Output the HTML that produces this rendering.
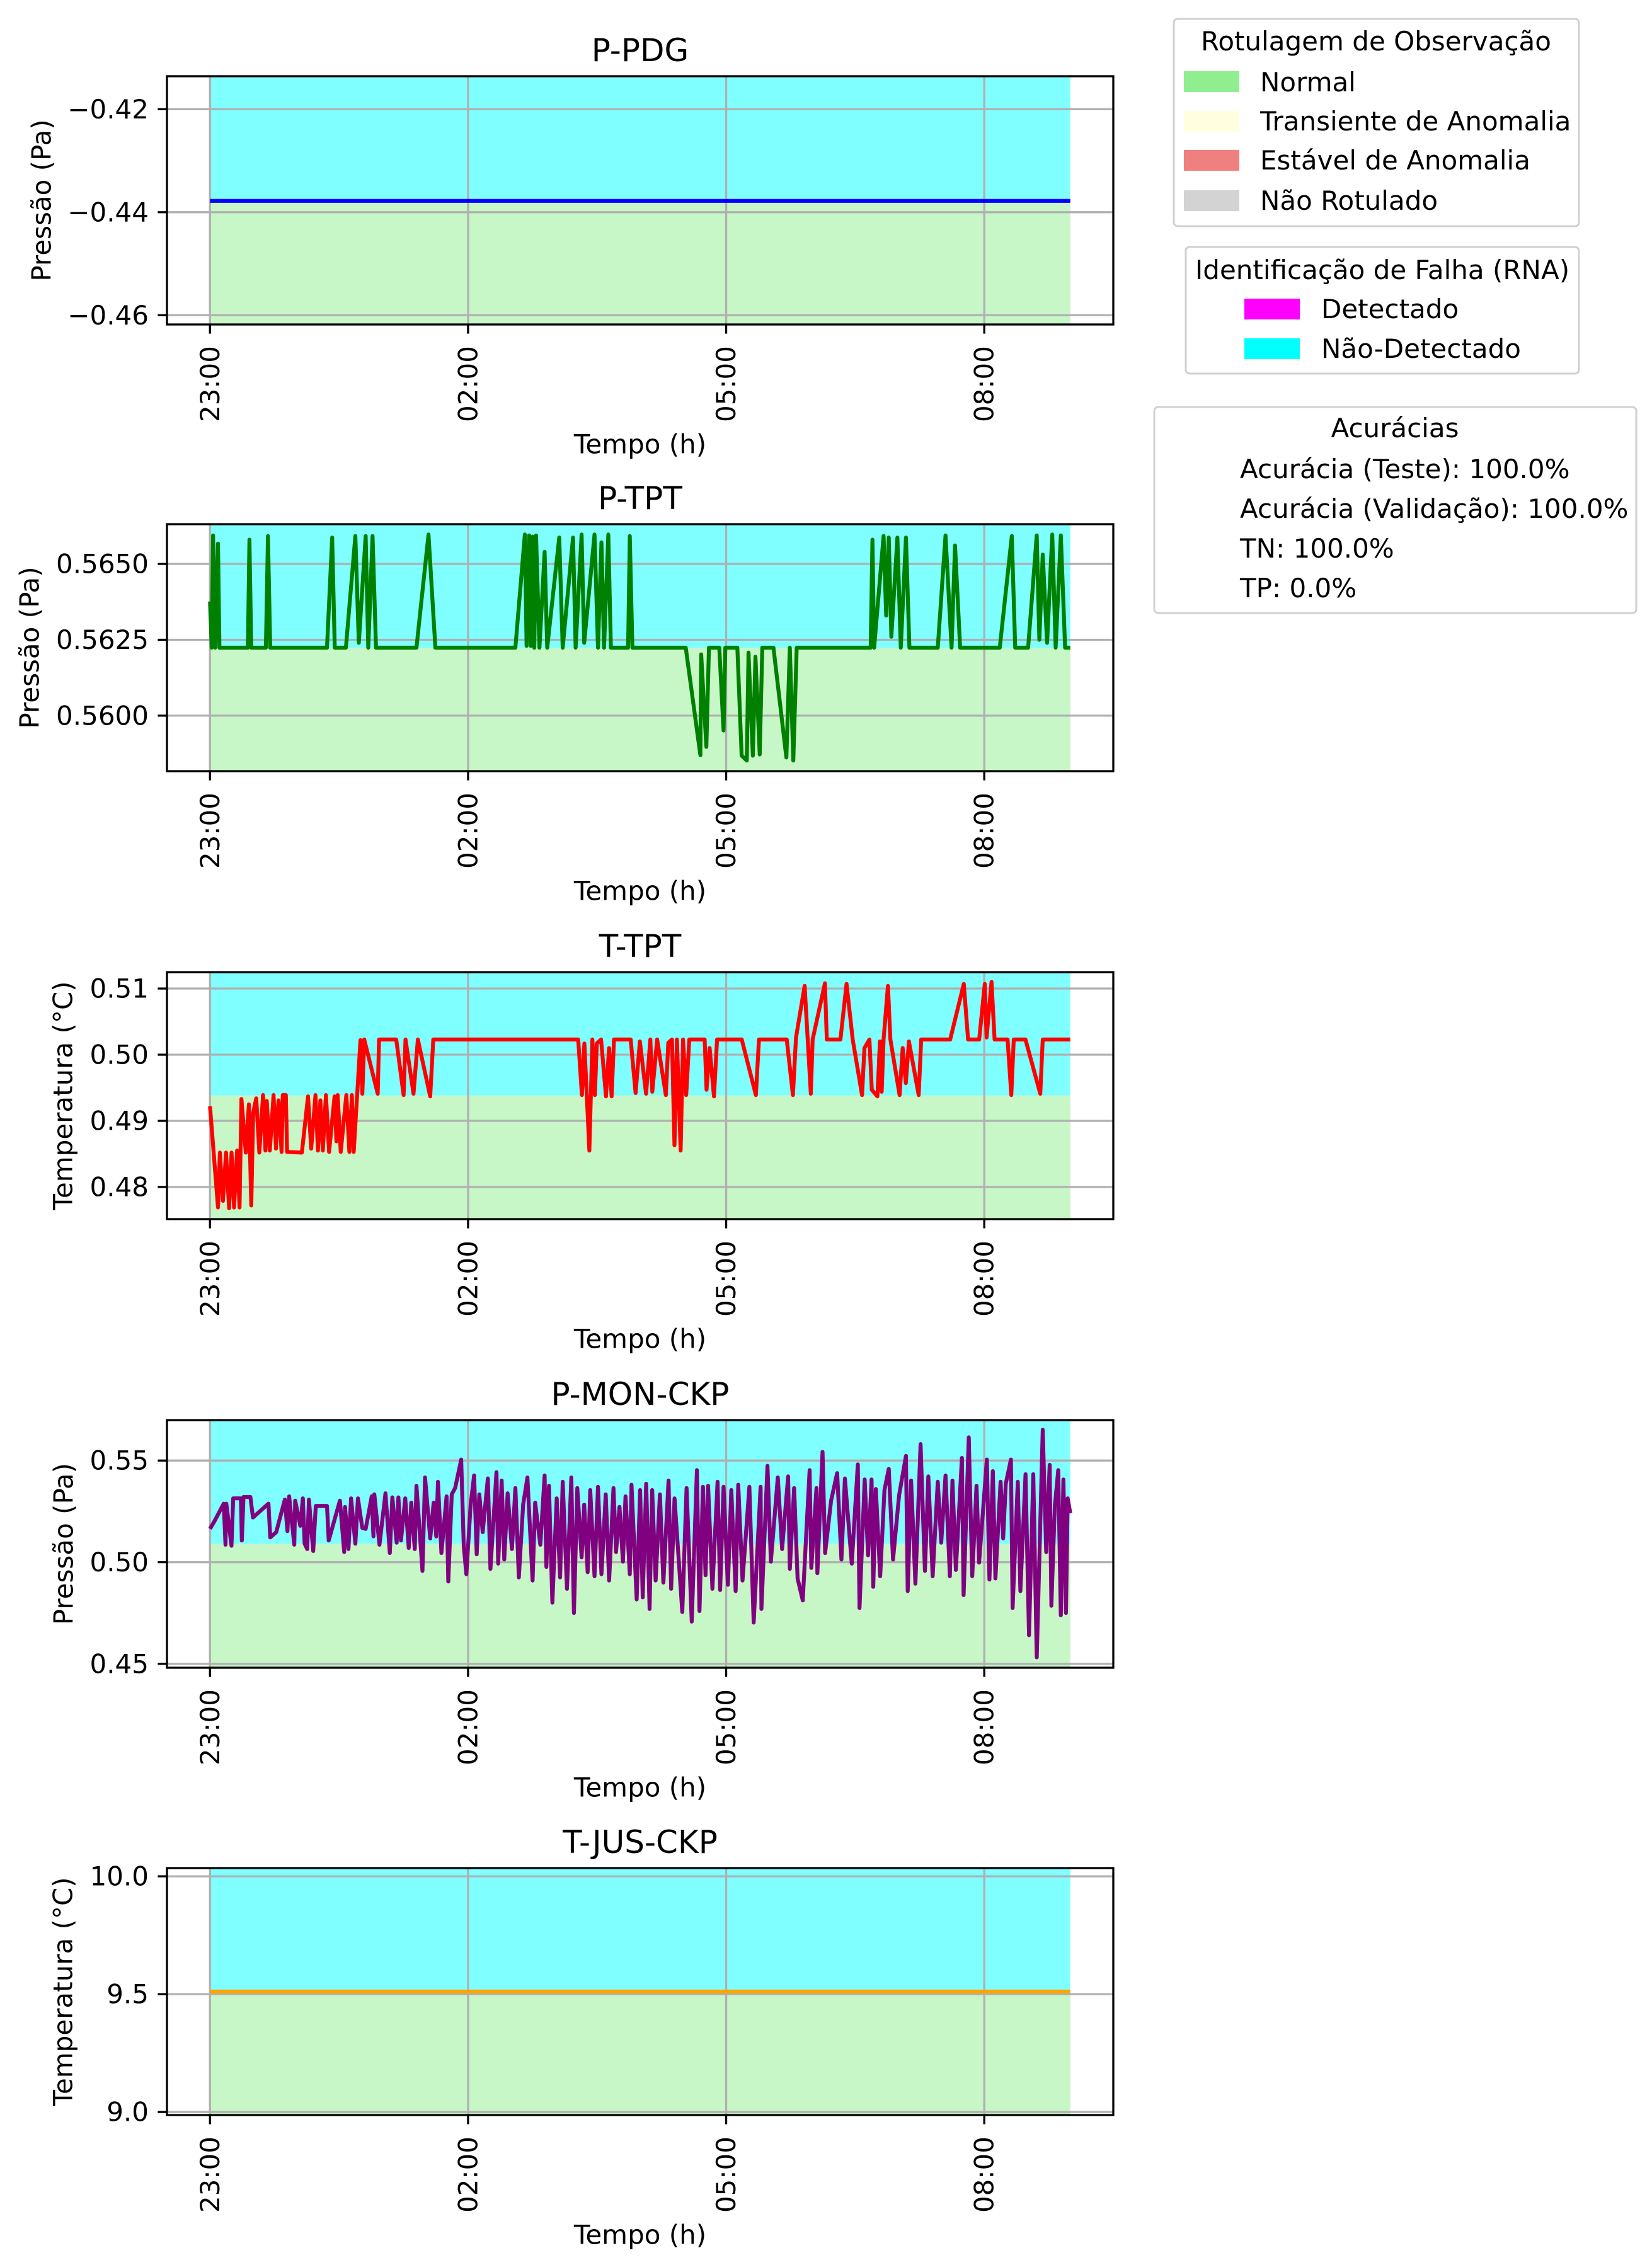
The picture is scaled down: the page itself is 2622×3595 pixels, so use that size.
<!DOCTYPE html>
<html><head><meta charset="utf-8"><style>
body{margin:0;background:#fff}
svg{display:block;font-family:"DejaVu Sans","Liberation Sans",sans-serif}
</style></head><body>
<svg id="fig" width="2622" height="3595" viewBox="0 0 2622 3595" xmlns="http://www.w3.org/2000/svg">
<rect x="0" y="0" width="2622" height="3595" fill="#fff"/>
<g id="plots"></g>
<g id="legends">
 <g>
  <rect x="1863" y="30" width="643" height="329" rx="6" fill="#fff" stroke="#d0d0d0" stroke-width="3"/>
  <text x="2184" y="80" font-size="42" text-anchor="middle">Rotulagem de Observação</text>
  <g><rect x="1879" y="113" width="88" height="33" fill="#90ee90"/><text x="2000" y="145" font-size="42">Normal</text></g>
  <g><rect x="1879" y="176" width="88" height="33" fill="#ffffe0"/><text x="2000" y="207" font-size="42">Transiente de Anomalia</text></g>
  <g><rect x="1879" y="238" width="88" height="33" fill="#f08080"/><text x="2000" y="269" font-size="42">Estável de Anomalia</text></g>
  <g><rect x="1879" y="302" width="88" height="33" fill="#d3d3d3"/><text x="2000" y="333" font-size="42">Não Rotulado</text></g>
 </g>
 <g>
  <rect x="1882" y="392" width="624" height="201" rx="6" fill="#fff" stroke="#d0d0d0" stroke-width="3"/>
  <text x="2194" y="443" font-size="42" text-anchor="middle">Identificação de Falha (RNA)</text>
  <g><rect x="1975" y="474" width="88" height="33" fill="#ff00ff"/><text x="2097" y="505" font-size="42">Detectado</text></g>
  <g><rect x="1975" y="537" width="88" height="33" fill="#00ffff"/><text x="2097" y="568" font-size="42">Não-Detectado</text></g>
 </g>
 <g>
  <rect x="1832" y="646" width="765" height="327" rx="6" fill="#fff" stroke="#d0d0d0" stroke-width="3"/>
  <text x="2214" y="694" font-size="42" text-anchor="middle">Acurácias</text>
  <text x="1968" y="759" font-size="42">Acurácia (Teste): 100.0%</text>
  <text x="1968" y="822" font-size="42">Acurácia (Validação): 100.0%</text>
  <text x="1968" y="885" font-size="42">TN: 100.0%</text>
  <text x="1968" y="948" font-size="42">TP: 0.0%</text>
 </g>
</g>
</svg>
<script>
// ---- shared axis data ----
const xTickHours = [0, 3, 6, 9];
const xTickLabels = ["23:00", "02:00", "05:00", "08:00"];
const xDomain = [-0.5, 10.5];
const fillEnd = [0, 10];

// ---- P-PDG ----
const pdgTimes = [0, 10];
const pdgValues = [-0.4378, -0.4378];
const pdgTicks = [-0.42, -0.44, -0.46];
const pdgTickLabels = ["\u22120.42", "\u22120.44", "\u22120.46"];
const pdgThreshold = -0.4378;

// ---- P-TPT ----
const tptTimes = [0,0.02,0.036,0.06,0.093,0.11,0.44,0.459,0.48,0.65,0.674,0.70,1.36,1.42,1.45,1.58,1.69,1.73,1.81,1.84,1.89,1.93,2.40,2.54,2.62,3.55,3.66,3.68,3.71,3.73,3.75,3.77,3.79,3.83,3.89,3.92,4.06,4.10,4.22,4.25,4.32,4.35,4.47,4.51,4.55,4.58,4.63,4.66,4.86,4.88,4.91,5.53,5.70,5.71,5.77,5.80,5.92,5.97,5.99,6.13,6.18,6.24,6.26,6.31,6.34,6.39,6.42,6.55,6.70,6.74,6.78,6.82,7.68,7.70,7.72,7.83,7.86,7.89,7.92,7.99,8.03,8.09,8.13,8.46,8.55,8.62,8.66,8.72,9.18,9.32,9.36,9.51,9.61,9.64,9.68,9.73,9.79,9.83,9.89,9.94,10.0];
const tptValues = [0.56376,0.56224,0.56594,0.56224,0.56567,0.56224,0.56224,0.56580,0.56224,0.56224,0.56592,0.56224,0.56224,0.56587,0.56224,0.56224,0.56592,0.56240,0.56592,0.56224,0.56592,0.56224,0.56224,0.56597,0.56224,0.56224,0.56597,0.56230,0.56594,0.56230,0.56590,0.56224,0.56594,0.56224,0.56540,0.56224,0.56587,0.56224,0.56587,0.56224,0.56597,0.56240,0.56597,0.56224,0.56571,0.56224,0.56597,0.56224,0.56224,0.56592,0.56224,0.56224,0.55870,0.56202,0.55897,0.56224,0.56224,0.55951,0.56224,0.56224,0.55868,0.55852,0.56208,0.55868,0.56194,0.55872,0.56224,0.56224,0.55862,0.56224,0.55852,0.56224,0.56224,0.56580,0.56224,0.56592,0.56330,0.56587,0.56260,0.56587,0.56224,0.56587,0.56224,0.56224,0.56594,0.56224,0.56561,0.56224,0.56224,0.56592,0.56224,0.56224,0.56594,0.56250,0.56531,0.56240,0.56597,0.56224,0.56594,0.56224,0.56224];
const tptTicks = [0.5650, 0.5625, 0.5600];
const tptTickLabels = ["0.5650", "0.5625", "0.5600"];
const tptThreshold = 0.56224;

// ---- T-TPT ----
const ttptTimes = [0,0.093,0.115,0.151,0.186,0.222,0.251,0.280,0.315,0.344,0.366,0.416,0.452,0.480,0.502,0.538,0.574,0.617,0.645,0.660,0.695,0.739,0.767,0.796,0.832,0.846,0.882,0.896,1.068,1.140,1.176,1.226,1.255,1.283,1.312,1.348,1.384,1.448,1.470,1.484,1.520,1.585,1.620,1.649,1.671,1.749,1.771,1.793,1.950,1.965,2.165,2.251,2.273,2.366,2.416,2.560,2.596,4.280,4.323,4.352,4.410,4.445,4.474,4.496,4.546,4.603,4.639,4.668,4.696,4.890,4.947,4.997,5.069,5.119,5.141,5.198,5.299,5.327,5.370,5.399,5.428,5.471,5.499,5.535,5.571,5.750,5.772,5.808,5.858,5.894,6.181,6.345,6.381,6.704,6.776,6.812,6.912,6.984,7.005,7.148,7.170,7.328,7.399,7.471,7.579,7.607,7.665,7.693,7.758,7.787,7.808,7.830,7.880,7.909,8.016,8.052,8.088,8.124,8.238,8.267,8.604,8.762,8.812,8.941,9.006,9.027,9.084,9.120,9.271,9.314,9.343,9.479,9.651,9.680,10.0];
const ttptValues = [0.4922,0.4769,0.4852,0.4779,0.4852,0.4768,0.4852,0.4769,0.4855,0.4769,0.4933,0.4852,0.4925,0.4772,0.4912,0.4934,0.4852,0.4939,0.4855,0.4930,0.4855,0.4939,0.4858,0.4931,0.4853,0.4939,0.4939,0.4853,0.4852,0.4937,0.4858,0.4939,0.4855,0.4931,0.4855,0.4939,0.4853,0.4937,0.4869,0.4939,0.4853,0.4939,0.4853,0.4939,0.4853,0.5022,0.4941,0.5023,0.4941,0.5023,0.5023,0.4939,0.5023,0.4941,0.5023,0.4937,0.5023,0.5023,0.4939,0.5017,0.4855,0.5023,0.4939,0.5017,0.5023,0.4937,0.5010,0.4937,0.5023,0.5023,0.4942,0.5020,0.4941,0.5023,0.4944,0.5023,0.4939,0.5018,0.5023,0.4863,0.5023,0.4855,0.5023,0.4939,0.5023,0.5023,0.4947,0.5010,0.4937,0.5023,0.5023,0.4939,0.5023,0.5023,0.4939,0.5026,0.5104,0.4941,0.5023,0.5108,0.5023,0.5023,0.5107,0.5023,0.4939,0.5010,0.5023,0.4947,0.4937,0.5020,0.4944,0.5023,0.5104,0.5023,0.4939,0.5010,0.4957,0.5020,0.4939,0.5023,0.5023,0.5107,0.5023,0.5023,0.5107,0.5026,0.5110,0.5023,0.5023,0.4939,0.5023,0.5023,0.4941,0.5023,0.5023];
const ttptTicks = [0.51, 0.50, 0.49, 0.48];
const ttptTickLabels = ["0.51", "0.50", "0.49", "0.48"];
const ttptThreshold = 0.49385;

// ---- P-MON-CKP ----
const monTimes = [0,0.05,0.16,0.18,0.19,0.25,0.27,0.36,0.37,0.39,0.47,0.50,0.68,0.70,0.77,0.87,0.90,0.92,0.98,0.99,1.05,1.08,1.10,1.13,1.15,1.20,1.23,1.36,1.38,1.51,1.56,1.57,1.61,1.64,1.69,1.72,1.77,1.81,1.88,1.90,1.91,1.97,2.04,2.09,2.12,2.17,2.19,2.22,2.27,2.31,2.34,2.38,2.40,2.47,2.50,2.56,2.60,2.63,2.65,2.69,2.75,2.77,2.81,2.85,2.92,2.95,2.98,3.03,3.07,3.10,3.13,3.17,3.23,3.26,3.33,3.35,3.39,3.42,3.46,3.51,3.55,3.59,3.64,3.69,3.75,3.78,3.84,3.89,3.91,3.94,3.98,4.03,4.07,4.10,4.15,4.20,4.23,4.27,4.32,4.35,4.39,4.42,4.47,4.51,4.55,4.60,4.64,4.69,4.72,4.76,4.80,4.83,4.88,4.90,4.96,5.00,5.03,5.07,5.11,5.14,5.18,5.23,5.27,5.33,5.36,5.40,5.49,5.54,5.60,5.66,5.69,5.73,5.76,5.79,5.84,5.90,5.93,5.97,6.02,6.06,6.11,6.14,6.19,6.27,6.32,6.40,6.41,6.48,6.52,6.60,6.65,6.72,6.74,6.79,6.83,6.89,6.97,6.99,7.05,7.06,7.12,7.15,7.22,7.29,7.34,7.38,7.46,7.53,7.55,7.61,7.65,7.69,7.71,7.74,7.79,7.84,7.89,7.94,8.01,8.09,8.11,8.15,8.20,8.26,8.31,8.35,8.40,8.46,8.50,8.55,8.60,8.63,8.67,8.74,8.76,8.82,8.86,8.91,8.94,9.03,9.06,9.10,9.13,9.19,9.22,9.25,9.31,9.33,9.39,9.42,9.48,9.52,9.57,9.61,9.68,9.72,9.76,9.78,9.82,9.86,9.89,9.92,9.95,9.97,10.00];
const monValues = [0.5164,0.5200,0.5288,0.5086,0.5288,0.5081,0.5314,0.5314,0.5107,0.5321,0.5321,0.5220,0.5288,0.5122,0.5148,0.5308,0.5153,0.5324,0.5086,0.5303,0.5179,0.5314,0.5091,0.5065,0.5308,0.5055,0.5277,0.5277,0.5107,0.5303,0.5050,0.5272,0.5065,0.5314,0.5091,0.5314,0.5169,0.5164,0.5324,0.5127,0.5334,0.5086,0.5339,0.5045,0.5319,0.5096,0.5319,0.5107,0.5314,0.5070,0.5293,0.5065,0.5376,0.4957,0.5417,0.5117,0.5293,0.5127,0.5396,0.5045,0.5324,0.4905,0.5334,0.5365,0.5505,0.5076,0.4941,0.5283,0.5427,0.5039,0.5334,0.5148,0.5412,0.4967,0.5443,0.4993,0.5402,0.5013,0.5339,0.5065,0.5365,0.4925,0.5283,0.5417,0.4910,0.5293,0.5086,0.5427,0.4977,0.5376,0.4801,0.5314,0.4925,0.5396,0.4869,0.5417,0.4750,0.5365,0.5024,0.5283,0.4951,0.5355,0.4931,0.5371,0.4941,0.5334,0.4910,0.5365,0.5050,0.5272,0.5003,0.5324,0.4941,0.5381,0.4817,0.5355,0.4827,0.5386,0.4770,0.5355,0.4910,0.5334,0.4900,0.5402,0.4869,0.5314,0.4755,0.5365,0.4708,0.5453,0.4760,0.5371,0.4936,0.5376,0.4869,0.5396,0.4863,0.5371,0.4889,0.5355,0.4858,0.5381,0.4910,0.5371,0.4703,0.5371,0.4770,0.5474,0.5003,0.5417,0.5065,0.5422,0.4967,0.5365,0.4920,0.4812,0.5453,0.4972,0.5365,0.4946,0.5543,0.5045,0.5303,0.5438,0.5013,0.5412,0.4993,0.5481,0.4775,0.5407,0.5034,0.5407,0.4879,0.5360,0.4931,0.5355,0.5459,0.5013,0.5329,0.5523,0.4858,0.5402,0.4894,0.5581,0.4957,0.5422,0.4931,0.5396,0.5096,0.5427,0.4931,0.5402,0.4962,0.5513,0.4838,0.5614,0.4931,0.5376,0.4998,0.5505,0.4915,0.5448,0.4920,0.5396,0.5117,0.5386,0.5505,0.4775,0.5396,0.4858,0.5433,0.4641,0.5433,0.4532,0.5652,0.5050,0.5479,0.4786,0.5272,0.5453,0.4739,0.5407,0.4750,0.5314,0.5241];
const monTicks = [0.55, 0.50, 0.45];
const monTickLabels = ["0.55", "0.50", "0.45"];
const monThreshold = 0.5091;

// ---- T-JUS-CKP ----
const jusTimes = [0, 10];
const jusValues = [9.511, 9.511];
const jusTicks = [10.0, 9.5, 9.0];
const jusTickLabels = ["10.0", "9.5", "9.0"];
const jusThreshold = 9.511;

const NS = "http://www.w3.org/2000/svg";
const AX_L = 265, AX_R = 1767;
const panels = [
 {key:"p-pdg", title:"P-PDG", ylabel:"Pressão (Pa)", ylx:66, top:121, bottom:515, ylim:[-0.4618,-0.4136], t:pdgTimes, v:pdgValues, ticks:pdgTicks, labels:pdgTickLabels, thr:pdgThreshold, color:"#0000ff"},
 {key:"p-tpt", title:"P-TPT", ylabel:"Pressão (Pa)", ylx:47, top:832, bottom:1224, ylim:[0.55817,0.56631], t:tptTimes, v:tptValues, ticks:tptTicks, labels:tptTickLabels, thr:tptThreshold, color:"#008000"},
 {key:"t-tpt", title:"T-TPT", ylabel:"Temperatura (°C)", ylx:100, top:1543, bottom:1935, ylim:[0.47514,0.51248], t:ttptTimes, v:ttptValues, ticks:ttptTicks, labels:ttptTickLabels, thr:ttptThreshold, color:"#ff0000"},
 {key:"p-mon-ckp", title:"P-MON-CKP", ylabel:"Pressão (Pa)", ylx:101, top:2254, bottom:2647, ylim:[0.4481,0.5699], t:monTimes, v:monValues, ticks:monTicks, labels:monTickLabels, thr:monThreshold, color:"#800080"},
 {key:"t-jus-ckp", title:"T-JUS-CKP", ylabel:"Temperatura (°C)", ylx:100, top:2965, bottom:3357, ylim:[8.987,10.035], t:jusTimes, v:jusValues, ticks:jusTicks, labels:jusTickLabels, thr:jusThreshold, color:"#ffa500"}
];
function mk(tag, attrs, parent){const e=document.createElementNS(NS,tag);for(const k in attrs)e.setAttribute(k,attrs[k]);if(parent)parent.appendChild(e);return e;}
const xs = h => AX_L + (h - xDomain[0]) / (xDomain[1] - xDomain[0]) * (AX_R - AX_L);
const root = document.getElementById("plots");
panels.forEach(p => {
 const ys = v => p.bottom - (v - p.ylim[0]) / (p.ylim[1] - p.ylim[0]) * (p.bottom - p.top);
 const g = mk("g", {}, root);
 
 
 // fills
 const x0 = xs(fillEnd[0]), x1 = xs(fillEnd[1]), yt = ys(p.thr);
 const fc = mk("rect", {x:x0, y:p.top, width:x1-x0, height:yt-p.top, fill:"#00ffff", "fill-opacity":0.5}, g);
 
 
 const fg = mk("rect", {x:x0, y:yt, width:x1-x0, height:p.bottom-yt, fill:"#90ee90", "fill-opacity":0.5}, g);
 
 
 // grid
 xTickHours.forEach(h => { const l = mk("line", {x1:xs(h), x2:xs(h), y1:p.top, y2:p.bottom, stroke:"#b0b0b0", "stroke-width":3.3}, g);
  
   });
 p.ticks.forEach(v => { const l = mk("line", {x1:AX_L, x2:AX_R, y1:ys(v), y2:ys(v), stroke:"#b0b0b0", "stroke-width":3.3}, g);
  
   });
 // series
 const d = p.t.map((h,i) => (i ? "L" : "M") + xs(h).toFixed(1) + "," + ys(p.v[i]).toFixed(1)).join("");
 const path = mk("path", {d:d, fill:"none", stroke:p.color, "stroke-width":6.2, "stroke-linejoin":"round"}, g);
 
 
 // spine
 const sp = mk("rect", {x:AX_L, y:p.top, width:AX_R-AX_L, height:p.bottom-p.top, fill:"none", stroke:"#000", "stroke-width":3.3}, g);
 
 
 // y ticks
 p.ticks.forEach((v,i) => {
  mk("line", {x1:AX_L-14.6, x2:AX_L, y1:ys(v), y2:ys(v), stroke:"#000", "stroke-width":3.3}, g);
  const t = mk("text", {x:AX_L-29, y:ys(v), "font-size":42, "text-anchor":"end", "dominant-baseline":"central"}, g);
  t.textContent = p.labels[i];
  
  
 });
 // x ticks
 xTickHours.forEach((h,i) => {
  mk("line", {x1:xs(h), x2:xs(h), y1:p.bottom, y2:p.bottom+14.6, stroke:"#000", "stroke-width":3.3}, g);
  const tx = xs(h), ty = p.bottom + 34;
  const t = mk("text", {x:tx, y:ty, "font-size":42, "text-anchor":"end", "dominant-baseline":"central", transform:`rotate(-90 ${tx} ${ty})`}, g);
  t.textContent = xTickLabels[i];
  
  
 });
 const xl = mk("text", {x:(AX_L+AX_R)/2, y:p.bottom+190, "font-size":42, "text-anchor":"middle", "dominant-baseline":"central"}, g);
 xl.textContent = "Tempo (h)";
 
 
 const cy = (p.top + p.bottom)/2;
 const yl = mk("text", {x:p.ylx, y:cy, "font-size":42, "text-anchor":"middle", "dominant-baseline":"central", transform:`rotate(-90 ${p.ylx} ${cy})`}, g);
 yl.textContent = p.ylabel;
 
 
 const tt = mk("text", {x:(AX_L+AX_R)/2, y:p.top-24, "font-size":50, "text-anchor":"middle"}, g);
 tt.textContent = p.title;
 
 
});
</script>
</body></html>
